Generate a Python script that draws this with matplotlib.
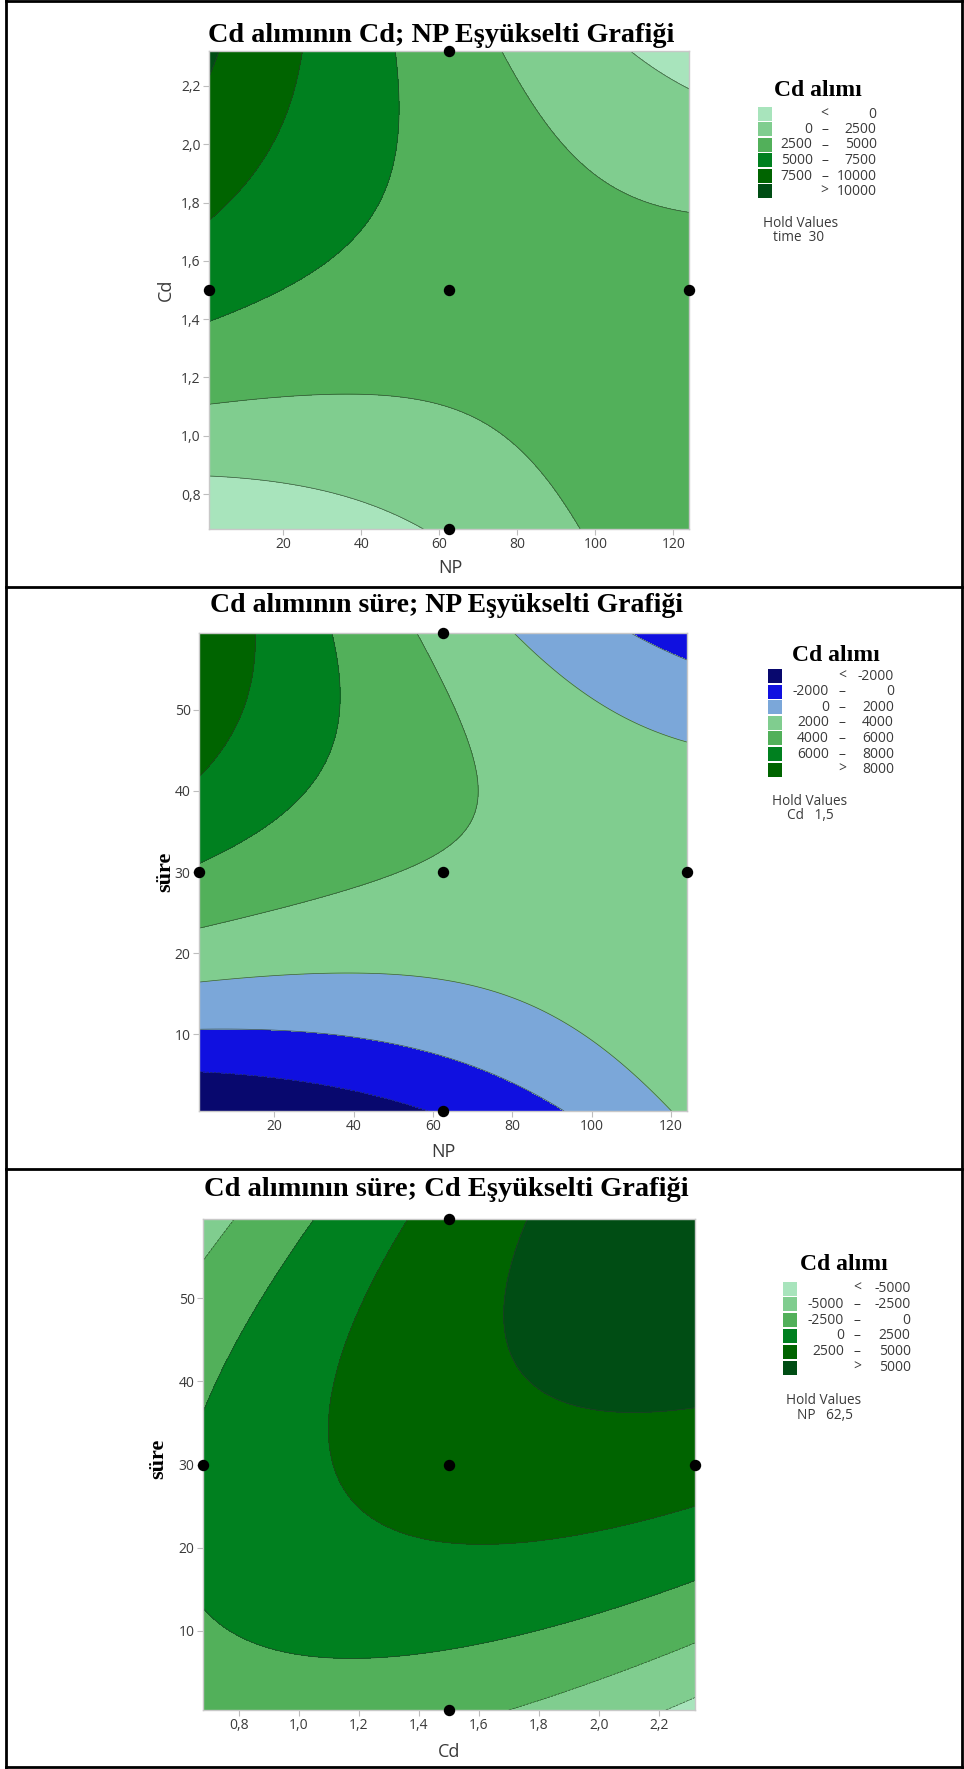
import numpy as np
import matplotlib
matplotlib.use("Agg")
import matplotlib.pyplot as plt
from matplotlib.patches import Rectangle
from matplotlib.lines import Line2D
from matplotlib.ticker import FuncFormatter, FixedLocator

W, H, DPI = 964, 1769, 100
SANS = ["Open Sans", "DejaVu Sans"]
SERIF = ["Liberation Serif", "DejaVu Serif"]
TXT = "#3a3a3a"

# factor ranges
NP_range = [1, 124]
Cd_range = [0.68, 2.32]
time_range = [0.5, 59.5]

# quadratic response-surface coefficients (coded units), estimated from the contours:
# [b0, b_x, b_y, b_xx, b_yy, b_xy]
coef_Cd_NP = [3731, -1121, 1669, 994, -1712, -4511]      # x = NP, y = Cd   (time 30)
coef_sure_NP = [3785, -1018, 2620, 962, -2973, -4184]    # x = NP, y = süre (Cd 1,5)
coef_sure_Cd = [3643, 1657, 2672, -1630, -2869, 3738]    # x = Cd, y = süre (NP 62,5)

levels1 = [0, 2500, 5000, 7500, 10000]
levels2 = [-2000, 0, 2000, 4000, 6000, 8000]
levels3 = [-5000, -2500, 0, 2500, 5000]

G0, G1, G2, G3, G4, G5 = "#a8e4bc", "#80cd8f", "#52b05a", "#00801f", "#006400", "#004d14"
B0, B1, B2 = "#08086e", "#1010e0", "#7ba7d9"
colors1 = [G0, G1, G2, G3, G4, G5]
colors2 = [B0, B1, B2, G1, G2, G3, G4]
colors3 = [G0, G1, G2, G3, G4, G5]

legend1 = [("", "<", "0"), ("0", "–", "2500"), ("2500", "–", "5000"), ("5000", "–", "7500"),
           ("7500", "–", "10000"), ("", ">", "10000")]
legend2 = [("", "<", "-2000"), ("-2000", "–", "0"), ("0", "–", "2000"), ("2000", "–", "4000"),
           ("4000", "–", "6000"), ("6000", "–", "8000"), ("", ">", "8000")]
legend3 = [("", "<", "-5000"), ("-5000", "–", "-2500"), ("-2500", "–", "0"), ("0", "–", "2500"),
           ("2500", "–", "5000"), ("", ">", "5000")]

np_ticks = [20, 40, 60, 80, 100, 120]
cd_ticks = [0.8, 1.0, 1.2, 1.4, 1.6, 1.8, 2.0, 2.2]
t_ticks = [10, 20, 30, 40, 50]

fig = plt.figure(figsize=(W / DPI, H / DPI), dpi=DPI)


def add_ax(x0, y0, x1, y1):
    return fig.add_axes([x0 / W, 1 - y1 / H, (x1 - x0) / W, (y1 - y0) / H])


def comma(v, pos=None):
    return f"{v:.1f}".replace(".", ",")


def panel(box, xr, yr, coef, levels, colors, xticks, yticks, xfmt, yfmt):
    ax = add_ax(*box)
    u = np.linspace(-1, 1, 400)
    U, V = np.meshgrid(u, u)
    b0, b1, b2, b11, b22, b12 = coef
    Z = b0 + b1 * U + b2 * V + b11 * U * U + b22 * V * V + b12 * U * V
    xc, xh = (xr[0] + xr[1]) / 2, (xr[1] - xr[0]) / 2
    yc, yh = (yr[0] + yr[1]) / 2, (yr[1] - yr[0]) / 2
    X, Y = xc + xh * U, yc + yh * V
    lv = [-1e9] + list(levels) + [1e9]
    ax.contourf(X, Y, Z, levels=lv, colors=colors)
    ax.contour(X, Y, Z, levels=levels, colors="#2a3a2a", linewidths=0.5, alpha=0.8)
    px = [xr[0], xc, xr[1], xc, xc]
    py = [yc, yc, yc, yr[0], yr[1]]
    ax.plot(px, py, "o", color="black", ms=7.2, clip_on=False, zorder=5)
    ax.set_xlim(xr)
    ax.set_ylim(yr)
    ax.xaxis.set_major_locator(FixedLocator(xticks))
    ax.yaxis.set_major_locator(FixedLocator(yticks))
    if xfmt:
        ax.xaxis.set_major_formatter(FuncFormatter(comma))
    if yfmt:
        ax.yaxis.set_major_formatter(FuncFormatter(comma))
    for s in ax.spines.values():
        s.set_color("#c8c8c8")
        s.set_linewidth(1)
    ax.tick_params(length=4, width=0.8, color="#bdbdbd", labelcolor=TXT, labelsize=10, pad=2)
    for t in ax.get_xticklabels() + ax.get_yticklabels():
        t.set_family(SANS)
    return ax


def legend(title, tx, ty, rows, colors, sx, y0, dy, xl, xs, xr, hold1, hold2, hx, hy, h2x):
    fig.text(tx / W, 1 - ty / H, title, family=SERIF, weight="bold", fontsize=17,
             ha="center", va="center", color="black")
    for i, (l, s, r) in enumerate(rows):
        yy = y0 + i * dy
        fig.patches.append(Rectangle((sx / W, 1 - (yy + 7) / H), 14 / W, 14 / H,
                                     transform=fig.transFigure, facecolor=colors[i],
                                     edgecolor="none"))
        kw = dict(family=SANS, fontsize=10, color=TXT, va="center")
        if l:
            fig.text(xl / W, 1 - yy / H, l, ha="right", **kw)
        fig.text(xs / W, 1 - yy / H, s, ha="center", **kw)
        fig.text(xr / W, 1 - yy / H, r, ha="right", **kw)
    fig.text(hx / W, 1 - hy / H, hold1, family=SANS, fontsize=9.8, color=TXT, va="center")
    fig.text(h2x / W, 1 - (hy + 14.5) / H, hold2, family=SANS, fontsize=9.8, color=TXT,
             va="center")


# Panel 1
panel((209, 51, 689, 529), NP_range, Cd_range, coef_Cd_NP, levels1, colors1,
      np_ticks, cd_ticks, False, True)
fig.text(441 / W, 1 - 42 / H, "Cd alımının Cd; NP Eşyükselti Grafiği", family=SERIF,
         weight="bold", fontsize=20.3, ha="center", va="baseline")
fig.text(450 / W, 1 - 568 / H, "NP", family=SANS, fontsize=13, color=TXT, ha="center", va="center")
fig.text(166 / W, 1 - 290 / H, "Cd", family=SANS, fontsize=13, color=TXT, ha="center",
         va="center", rotation=90)
legend("Cd alımı", 818, 91, legend1, colors1, 758, 114, 15.5, 812.7, 824.5, 876.7,
       "Hold Values", "time  30", 762.7, 223, 773)

# Panel 2
panel((199, 633, 687, 1111), NP_range, time_range, coef_sure_NP, levels2, colors2,
      np_ticks, t_ticks, False, False)
fig.text(446 / W, 1 - 612 / H, "Cd alımının süre; NP Eşyükselti Grafiği", family=SERIF,
         weight="bold", fontsize=20, ha="center", va="baseline")
fig.text(443 / W, 1 - 1152 / H, "NP", family=SANS, fontsize=13, color=TXT, ha="center", va="center")
fig.text(165 / W, 1 - 872 / H, "süre", family=SERIF, weight="bold", fontsize=16, ha="center",
         va="center", rotation=90)
legend("Cd alımı", 836, 655, legend2, colors2, 768, 676, 15.6, 829, 842, 894,
       "Hold Values", "Cd   1,5", 771.7, 801, 786.7)

# Panel 3
panel((203, 1219, 695, 1710), Cd_range, time_range, coef_sure_Cd, levels3, colors3,
      cd_ticks, t_ticks, True, False)
fig.text(446 / W, 1 - 1196 / H, "Cd alımının süre; Cd Eşyükselti Grafiği", family=SERIF,
         weight="bold", fontsize=20.5, ha="center", va="baseline")
fig.text(449 / W, 1 - 1752 / H, "Cd", family=SANS, fontsize=13, color=TXT, ha="center", va="center")
fig.text(158 / W, 1 - 1459 / H, "süre", family=SERIF, weight="bold", fontsize=16, ha="center",
         va="center", rotation=90)
legend("Cd alımı", 843.5, 1264, legend3, colors3, 782.7, 1288.5, 15.8, 844, 857, 910.7,
       "Hold Values", "NP   62,5", 786, 1401, 796.7)

# table borders
for (xa, ya, xb, yb) in [(6, 1.5, 962, 1.5), (6, 587, 962, 587), (6, 1169, 962, 1169),
                         (6, 1767, 962, 1767), (6, 0, 6, 1769), (962, 0, 962, 1769)]:
    fig.add_artist(Line2D([xa / W, xb / W], [1 - ya / H, 1 - yb / H], color="black", lw=2))

fig.savefig("out.png", dpi=DPI)
